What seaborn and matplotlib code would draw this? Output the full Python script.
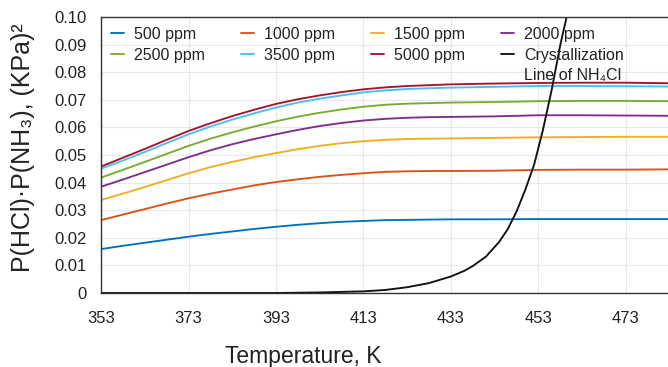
import numpy as np
import pandas as pd
import matplotlib
matplotlib.use("Agg")
import matplotlib.pyplot as plt
from matplotlib.ticker import FuncFormatter, MultipleLocator
from matplotlib.transforms import IdentityTransform
from matplotlib.lines import Line2D
import seaborn as sns

# ---- data ----
temps = [353, 358, 363, 368, 373, 378, 383, 388, 393, 398, 403, 408, 413,
         418, 423, 428, 433, 443, 453, 463, 473, 483]
ppm500 = [0.0159, 0.0171, 0.0182, 0.0193, 0.0204, 0.0214, 0.0223, 0.0232, 0.0240, 0.0247, 0.0253,
          0.0258, 0.0261, 0.0264, 0.0265, 0.0266, 0.0267, 0.0267, 0.0268, 0.0268, 0.0268, 0.0268]
ppm1000 = [0.0264, 0.0284, 0.0304, 0.0324, 0.0343, 0.0360, 0.0375, 0.0390, 0.0402, 0.0412, 0.0421,
           0.0428, 0.0434, 0.0439, 0.0441, 0.0442, 0.0442, 0.0443, 0.0446, 0.0447, 0.0447, 0.0448]
ppm1500 = [0.0337, 0.0360, 0.0384, 0.0409, 0.0434, 0.0456, 0.0475, 0.0492, 0.0507, 0.0521, 0.0533,
           0.0543, 0.0550, 0.0555, 0.0558, 0.0559, 0.0560, 0.0562, 0.0564, 0.0565, 0.0566, 0.0566]
ppm2000 = [0.0385, 0.0411, 0.0438, 0.0465, 0.0492, 0.0517, 0.0539, 0.0558, 0.0575, 0.0591, 0.0605,
           0.0616, 0.0625, 0.0631, 0.0635, 0.0637, 0.0638, 0.0640, 0.0644, 0.0644, 0.0643, 0.0642]
ppm2500 = [0.0418, 0.0446, 0.0475, 0.0504, 0.0533, 0.0559, 0.0582, 0.0603, 0.0622, 0.0639, 0.0653,
           0.0665, 0.0675, 0.0682, 0.0686, 0.0688, 0.0690, 0.0692, 0.0695, 0.0696, 0.0696, 0.0695]
ppm3500 = [0.0450, 0.0480, 0.0511, 0.0543, 0.0575, 0.0603, 0.0628, 0.0651, 0.0672, 0.0690, 0.0704,
           0.0716, 0.0727, 0.0734, 0.0739, 0.0742, 0.0744, 0.0747, 0.0750, 0.0750, 0.0749, 0.0748]
ppm5000 = [0.0458, 0.0490, 0.0522, 0.0555, 0.0587, 0.0615, 0.0641, 0.0664, 0.0685, 0.0702, 0.0716,
           0.0728, 0.0738, 0.0745, 0.0750, 0.0753, 0.0756, 0.0759, 0.0761, 0.0762, 0.0762, 0.0760]

series_labels = ["500 ppm", "1000 ppm", "1500 ppm", "2000 ppm",
                 "2500 ppm", "3500 ppm", "5000 ppm"]
series_values = [ppm500, ppm1000, ppm1500, ppm2000, ppm2500, ppm3500, ppm5000]
series_colors = ["#0072BD", "#D95319", "#EDB120", "#7E2F8E",
                 "#77AC30", "#4DBEEE", "#A2142F"]

cryst_T = [353, 393, 398, 403, 408, 413, 418, 423, 428, 433, 436, 438, 441,
           444, 446, 448, 450, 452, 454, 456, 458, 460]
cryst_P = [0.0, 0.0, 0.0001, 0.0002, 0.0004, 0.0006, 0.0011, 0.0021, 0.0036,
           0.0060, 0.0080, 0.0098, 0.0132, 0.0185, 0.0232, 0.0296, 0.0375,
           0.0465, 0.0590, 0.0735, 0.0900, 0.1040]
cryst_label = "Crystallization"
cryst_label2 = "Line of NH\u2084Cl"

x_ticks = [353, 373, 393, 413, 433, 453, 473]

# ---- build long-form table ----
rows = []
for lab, vals in zip(series_labels, series_values):
    for t, v in zip(temps, vals):
        rows.append({"T": t, "P": v, "series": lab})
df = pd.DataFrame(rows)
cdf = pd.DataFrame({"T": cryst_T, "P": cryst_P})

sns.set_style("whitegrid")
FAM = ["Liberation Sans", "DejaVu Sans"]
plt.rcParams["font.family"] = FAM

W, H = 668, 367
fig = plt.figure(figsize=(W / 100, H / 100), dpi=100)
ax = fig.add_axes([101 / W, 1 - 293 / H, 1 - 101 / W, (293 - 17) / H])

sns.lineplot(data=df, x="T", y="P", hue="series", hue_order=series_labels,
             palette=dict(zip(series_labels, series_colors)), lw=1.35, ax=ax,
             legend=False, sort=False)
sns.lineplot(data=cdf, x="T", y="P", color="#111111", lw=1.35, ax=ax, sort=False)

ax.set_xlim(353, 482.6)
ax.set_ylim(0, 0.10)
ax.set_xticks(x_ticks)
ax.yaxis.set_major_locator(MultipleLocator(0.01))
ax.yaxis.set_major_formatter(FuncFormatter(lambda v, p: "0" if abs(v) < 1e-9 else f"{v:.2f}"))

ax.grid(True, color="#e8e8e8", lw=0.8)
for s in ["left", "bottom", "top"]:
    ax.spines[s].set_visible(True)
    ax.spines[s].set_color("#333333")
    ax.spines[s].set_linewidth(1.0)
ax.spines["right"].set_visible(False)
ax.tick_params(axis="both", which="major", direction="out", length=5, width=1,
               color="#333333", labelsize=12, labelcolor="#222222")
ax.tick_params(axis="x", pad=8)
ax.tick_params(axis="y", pad=5)

ax.set_xlabel("Temperature, K", fontsize=16.5, color="#222222")
ax.xaxis.set_label_coords((303 - 101) / 567, (293 - 345) / 276)
ax.set_ylabel("P(HCl)\u00b7P(NH\u2083), (KPa)\u00b2", fontsize=18, color="#222222")
ax.yaxis.set_label_coords((35 - 101) / 567, (293 - 148) / 276)

# legend (row-wise order for 4 columns)
handles = [Line2D([], [], color=c, lw=1.35) for c in series_colors]
handles.append(Line2D([], [], color="#111111", lw=1.35))
labels = series_labels + [cryst_label]
order = [0, 4, 1, 5, 2, 6, 3, 7]
leg = ax.legend([handles[i] for i in order], [labels[i] for i in order],
                ncol=4, loc="upper left", bbox_to_anchor=(0.0, 1.0),
                frameon=False, fontsize=11.5, handlelength=0.85,
                handletextpad=0.6, columnspacing=2.25, labelspacing=0.4,
                borderpad=0.6, borderaxespad=0.0)
for t in leg.get_texts():
    t.set_color("#222222")

fig.canvas.draw()
ctext = leg.get_texts()[-1]
bb = ctext.get_window_extent(renderer=fig.canvas.get_renderer())
fig.text(bb.x0, bb.y0 - 5, cryst_label2, transform=IdentityTransform(),
         ha="left", va="top", fontsize=11.5, color="#222222", family=FAM)

fig.savefig("out.png", dpi=100)
